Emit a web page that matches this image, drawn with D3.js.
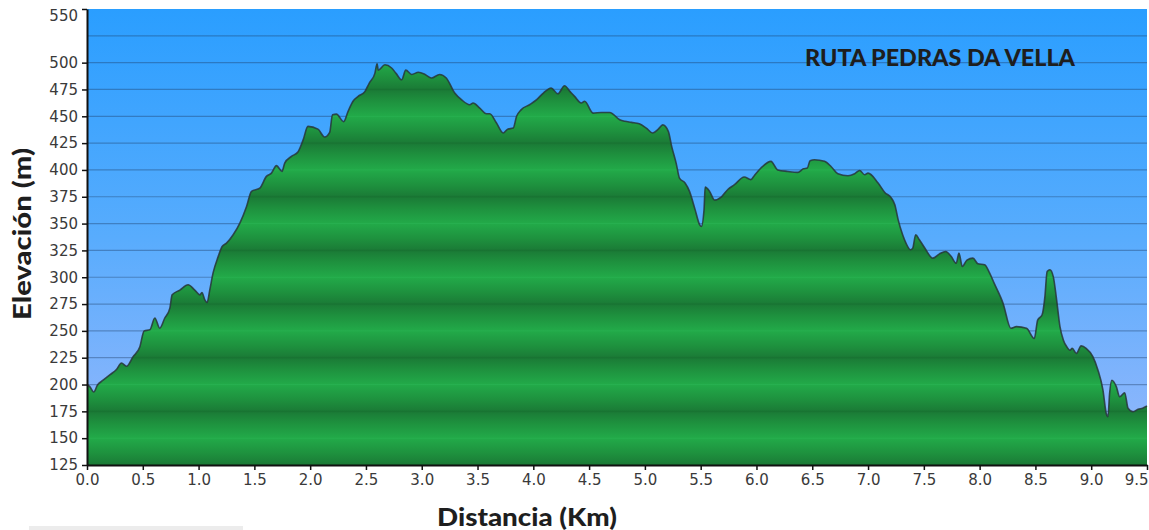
<!DOCTYPE html>
<html>
<head>
<meta charset="utf-8">
<script src="https://cdn.jsdelivr.net/npm/d3@7"></script>
<style>
  html, body { margin: 0; padding: 0; background: #fff; }
  svg { display: block; }
</style>
</head>
<body>
<svg id="chart" width="1149" height="530"></svg>
<script>
// Elevation profile of the route: distance (km) and elevation (m)
const distanceKm = [0.00, 0.025, 0.06, 0.094, 0.144, 0.204, 0.264, 0.309, 0.354, 0.413, 0.473, 0.512, 0.563, 0.608, 0.652, 0.697, 0.742, 0.763, 0.832, 0.906, 0.966, 1.011, 1.03, 1.056, 1.076, 1.10, 1.13, 1.175, 1.211, 1.25, 1.31, 1.37, 1.43, 1.474, 1.548, 1.608, 1.653, 1.698, 1.748, 1.772, 1.832, 1.892, 1.937, 1.98, 2.07, 2.13, 2.175, 2.20, 2.235, 2.30, 2.34, 2.384, 2.43, 2.49, 2.53, 2.58, 2.60, 2.61, 2.67, 2.73, 2.77, 2.82, 2.857, 2.91, 2.97, 3.03, 3.087, 3.16, 3.22, 3.296, 3.356, 3.43, 3.46, 3.52, 3.58, 3.61, 3.67, 3.73, 3.77, 3.82, 3.85, 3.89, 3.97, 4.03, 4.09, 4.16, 4.22, 4.28, 4.33, 4.37, 4.43, 4.46, 4.535, 4.61, 4.685, 4.774, 4.82, 4.88, 4.95, 5.013, 5.07, 5.12, 5.16, 5.21, 5.24, 5.28, 5.31, 5.36, 5.40, 5.45, 5.49, 5.506, 5.53, 5.54, 5.58, 5.625, 5.686, 5.745, 5.80, 5.89, 5.95, 5.98, 6.04, 6.13, 6.19, 6.28, 6.37, 6.42, 6.456, 6.48, 6.52, 6.61, 6.67, 6.73, 6.82, 6.88, 6.925, 6.97, 7.00, 7.09, 7.15, 7.21, 7.24, 7.27, 7.31, 7.34, 7.38, 7.40, 7.427, 7.46, 7.51, 7.58, 7.64, 7.695, 7.746, 7.79, 7.815, 7.845, 7.886, 7.94, 7.985, 8.045, 8.09, 8.13, 8.21, 8.28, 8.33, 8.42, 8.49, 8.52, 8.56, 8.585, 8.605, 8.63, 8.66, 8.69, 8.72, 8.75, 8.78, 8.81, 8.83, 8.867, 8.91, 8.955, 9.015, 9.06, 9.105, 9.135, 9.15, 9.165, 9.185, 9.225, 9.255, 9.30, 9.33, 9.375, 9.42, 9.46, 9.50];
const elevationM = [200, 198, 193, 199.5, 204, 209, 214, 220, 217, 226, 235, 250, 251, 262, 252.5, 262, 271, 283.6, 288, 293, 288, 283.6, 285.7, 279, 276.4, 288, 304, 319, 328.6, 331.8, 339.6, 350.5, 366, 380, 383, 394, 397, 404, 398.6, 406.4, 412.6, 417, 428, 440.6, 438, 430.7, 435, 451.5, 452, 445, 454.6, 464, 468.6, 473, 481, 490, 499, 493, 498, 495, 490, 484, 493, 489, 491, 489, 485.7, 489, 485.7, 471.7, 465.5, 460.8, 462.4, 457.7, 452.4, 452.4, 443.7, 434.4, 438, 439, 450, 456, 461, 465.5, 471.7, 476.4, 471, 478.5, 473, 468.6, 462.4, 464, 453, 453.6, 453.6, 446.8, 445.3, 444.3, 443, 439, 434.4, 438, 442, 436, 422, 406.4, 392.4, 387.8, 380, 363, 349, 347.3, 363, 384, 380, 372, 375, 382, 386, 393.4, 391, 394.6, 401.8, 408, 400, 398.6, 397.7, 401, 401.8, 408.6, 409.5, 408, 403, 396.5, 394.6, 396.5, 399.5, 395.5, 397, 387.8, 379, 373.8, 367.5, 353.5, 339.6, 331.8, 325.6, 327, 339.6, 335, 327, 317.8, 321.8, 324, 319.3, 313, 322.5, 310, 316, 317.8, 312.5, 311.6, 303.8, 294.5, 275.8, 252.5, 254, 252.5, 243, 260, 265, 282, 305.3, 307, 300.6, 279, 254, 241.6, 235.4, 232, 233.8, 229, 236, 233.8, 226, 213.6, 195, 173, 170, 191.9, 204, 198, 188.7, 192.4, 178, 174.7, 177, 178, 180];

// Axis ticks
const xTickValues = [0, 0.5, 1, 1.5, 2, 2.5, 3, 3.5, 4, 4.5, 5, 5.5, 6, 6.5, 7, 7.5, 8, 8.5, 9, 9.5];
const yTickLabels = [125, 150, 175, 200, 225, 250, 275, 300, 325, 350, 375, 400, 425, 450, 475, 500, 550];
const yGridValues = [150, 175, 200, 225, 250, 275, 300, 325, 350, 375, 400, 425, 450, 475, 500, 525];

const chartTitle = "RUTA PEDRAS DA VELLA";
const xTitle = "Distancia (Km)";
const yTitle = "Elevación (m)";

const profile = distanceKm.map((d, i) => ({ km: d, m: elevationM[i] }));

const svg = d3.select("#chart");
const plot = { left: 87, right: 1147, top: 9, bottom: 465 };

const x = d3.scaleLinear().domain([0, 9.5]).range([plot.left, plot.right]);
const y = d3.scaleLinear().domain([125, 550]).range([plot.bottom, plot.top]);

const defs = svg.append("defs");

// Sky background: vertical blue gradient
const sky = defs.append("linearGradient")
  .attr("id", "sky").attr("x1", 0).attr("x2", 0).attr("y1", 0).attr("y2", 1);
sky.append("stop").attr("offset", 0).attr("stop-color", "#2a9eff");
sky.append("stop").attr("offset", 0.5).attr("stop-color", "#58acfd");
sky.append("stop").attr("offset", 1).attr("stop-color", "#98b8fc");

// Terrain fill: repeating green bands, two grid steps per period
const terrain = defs.append("linearGradient")
  .attr("id", "terrain")
  .attr("gradientUnits", "userSpaceOnUse")
  .attr("spreadMethod", "repeat")
  .attr("x1", 0).attr("x2", 0)
  .attr("y1", y(225)).attr("y2", y(175));
[
  [0.00, "#187332"], [0.03, "#1b7d37"], [0.22, "#1e913e"], [0.42, "#21a346"],
  [0.485, "#22a948"], [0.50, "#27b050"], [0.515, "#22a948"], [0.58, "#21a346"],
  [0.78, "#1e913e"], [0.97, "#1b7d37"], [1.00, "#187332"]
].forEach(([o, c]) => terrain.append("stop").attr("offset", o).attr("stop-color", c));

// Plot background
svg.append("rect")
  .attr("x", plot.left).attr("y", plot.top)
  .attr("width", plot.right - plot.left).attr("height", plot.bottom - plot.top)
  .attr("fill", "url(#sky)");

// Horizontal grid lines
svg.append("g")
  .selectAll("line")
  .data(yGridValues)
  .join("line")
  .attr("x1", plot.left).attr("x2", plot.right)
  .attr("y1", d => y(d)).attr("y2", d => y(d))
  .attr("stroke", "#1d3b62").attr("stroke-opacity", 0.38).attr("stroke-width", 1.2);

// Terrain area and its outline
const area = d3.area()
  .x(d => x(d.km)).y0(plot.bottom).y1(d => y(d.m))
  .curve(d3.curveMonotoneX);
const line = d3.line()
  .x(d => x(d.km)).y(d => y(d.m))
  .curve(d3.curveMonotoneX);

svg.append("path").datum(profile)
  .attr("d", area).attr("fill", "url(#terrain)");
svg.append("path").datum(profile)
  .attr("d", line).attr("fill", "none")
  .attr("stroke", "#27363a").attr("stroke-opacity", 0.85).attr("stroke-width", 1.6)
  .attr("stroke-linejoin", "round");

// Axes
const tickFont = "'DejaVu Sans', Verdana, sans-serif";
const xAxis = svg.append("g")
  .attr("transform", `translate(0,${plot.bottom})`)
  .call(d3.axisBottom(x).tickValues(xTickValues).tickFormat(d3.format(".1f")).tickSize(5).tickSizeOuter(0));
const yAxis = svg.append("g")
  .attr("transform", `translate(${plot.left},0)`)
  .call(d3.axisLeft(y).tickValues(yTickLabels).tickFormat(d3.format("d")).tickSize(5).tickSizeOuter(0));

[xAxis, yAxis].forEach(g => {
  g.select(".domain").attr("stroke", "#111").attr("stroke-width", 2);
  g.selectAll(".tick line").attr("stroke", "#111").attr("stroke-width", 1.5);
  g.selectAll(".tick text")
    .attr("fill", "#3a3a3a")
    .style("font-family", tickFont)
    .style("font-size", "15px");
});
xAxis.selectAll(".tick text").attr("dy", "0.95em").attr("y", 6);
// the last distance label sits flush with the right edge of the plot
xAxis.selectAll(".tick")
  .filter(d => d === 9.5)
  .select("text").attr("text-anchor", "end").attr("x", 1);
yAxis.selectAll(".tick text").attr("x", -9);
// keep the topmost label inside the canvas
yAxis.selectAll(".tick")
  .filter(d => d === 550)
  .select("text").attr("dy", "0.75em");

// Titles
const titleFont = "Lato, 'DejaVu Sans', sans-serif";
svg.append("text")
  .attr("x", 805).attr("y", 66)
  .attr("textLength", 270).attr("lengthAdjust", "spacingAndGlyphs")
  .style("font-family", titleFont).style("font-weight", 900)
  .style("font-size", "23px").attr("fill", "#1e1e1e")
  .text(chartTitle);

svg.append("text")
  .attr("x", 437).attr("y", 526)
  .attr("textLength", 180).attr("lengthAdjust", "spacingAndGlyphs")
  .style("font-family", titleFont).style("font-weight", 900)
  .style("font-size", "25px").attr("fill", "#1e1e1e")
  .text(xTitle);

svg.append("text")
  .attr("transform", "translate(31,320) rotate(-90)")
  .attr("textLength", 172).attr("lengthAdjust", "spacingAndGlyphs")
  .style("font-family", titleFont).style("font-weight", 900)
  .style("font-size", "25px").attr("fill", "#1e1e1e")
  .text(yTitle);

// Light strip along the bottom-left edge
svg.append("rect")
  .attr("x", 29).attr("y", 526).attr("width", 214).attr("height", 4)
  .attr("fill", "#ececec");
</script>
</body>
</html>
